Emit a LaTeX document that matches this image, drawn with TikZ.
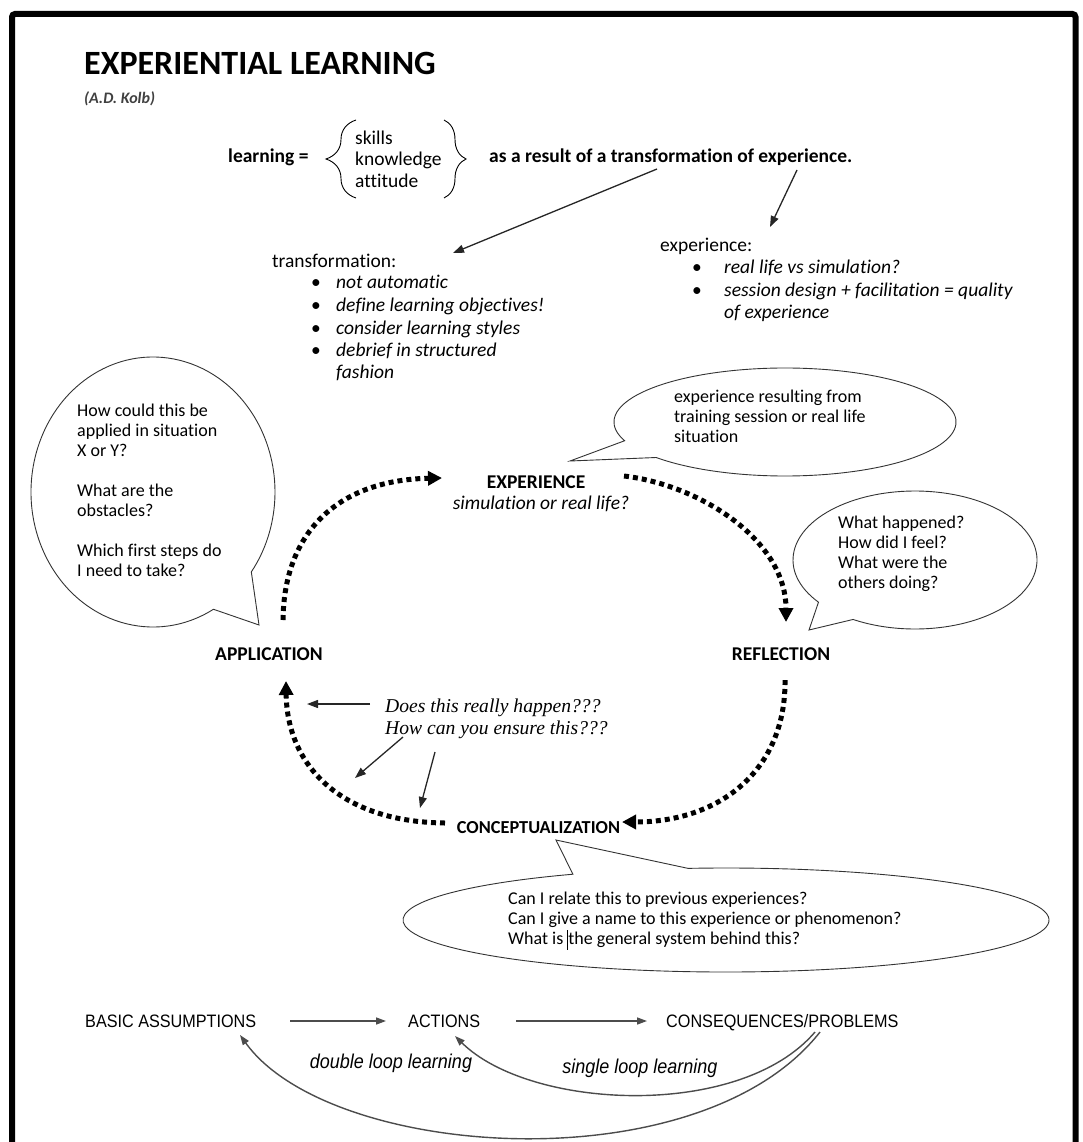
\documentclass[tikz,border=0pt]{standalone}
\usepackage{fontspec}
\setmainfont{Carlito}[Ligatures=NoCommon]
\newfontfamily\timesf{Liberation Serif}
\newfontfamily\narrowf[FakeStretch=0.9]{Liberation Sans}
\usetikzlibrary{arrows.meta,decorations.pathreplacing}
\begin{document}
\begin{tikzpicture}[x=1pt,y=-1pt,
  txt/.style={inner sep=0pt, anchor=base west, font=\fontsize{19.5}{22}\selectfont},
  btxt/.style={inner sep=0pt, anchor=base west, font=\fontsize{19.5}{22}\selectfont\bfseries},
  itxt/.style={inner sep=0pt, anchor=base west, font=\fontsize{19.5}{22}\selectfont\itshape},
  sm/.style={inner sep=0pt, anchor=base west, font=\fontsize{18}{20}\selectfont},
  cyc/.style={inner sep=0pt, anchor=base, font=\fontsize{19.5}{22}\selectfont\bfseries},
  serif/.style={inner sep=0pt, anchor=base west, font=\fontsize{19.6}{22}\selectfont\timesf\itshape},
  narrow/.style={inner sep=0pt, anchor=base west, font=\fontsize{18}{20}\selectfont\narrowf},
  narrowi/.style={inner sep=0pt, anchor=base, font=\fontsize{20}{22}\selectfont\narrowf\itshape},
  bubble/.style={draw=black!80, line width=0.9pt, fill=white},
  thinarrow/.style={draw=black!85, line width=1.3pt, -{Triangle[length=11pt,width=8pt]}},
  grayarrow/.style={draw=black!70, line width=1.4pt, -{Triangle[length=10pt,width=7pt]}},
  dots/.style={line width=5pt, dash pattern=on 5pt off 4pt, -{Triangle[length=14pt,width=14pt]}},
  bracestyle/.style={line width=0.9pt, decorate},
]
\useasboundingbox (0,0) rectangle (1083,1142);
% frame
\draw[line width=6pt, rounded corners=3pt] (12,1160) -- (12,14) -- (1075.5,14) -- (1075.5,1160);

% title
\node[inner sep=0pt, anchor=base west, font=\fontsize{34}{38}\selectfont\bfseries] (title) at (84,75) {EXPERIENTIAL LEARNING};
\node[inner sep=0pt, anchor=base west, font=\fontsize{16}{18}\selectfont\bfseries\itshape, text=black!75] (kolb) at (84,104) {(A.D. Kolb)};

% learning formula
\node[btxt] (learn) at (228,163) {learning =};
\node[txt] (skills) at (355,145) {skills};
\node[txt] (know) at (355,166) {knowledge};
\node[txt] (att) at (355,188) {attitude};
\draw[bracestyle, decoration={brace, amplitude=30pt}] (356,198) -- (356,120);
\draw[bracestyle, decoration={brace, amplitude=22pt}] (444,120) -- (444,198);
\node[btxt] (result) at (489,163) {as a result of a transformation of experience.};

\coordinate (tfA) at (657,169);
\coordinate (tfB) at (453,253);
\coordinate (exA) at (797,170);
\coordinate (exB) at (770,227);
\draw[thinarrow] (tfA) -- (tfB);
\draw[thinarrow] (exA) -- (exB);

% transformation list
\node[txt] (trf) at (272,267) {transformation:};
\node[txt] (tb1) at (311,288) {\textbullet};
\node[itxt] (t1) at (336,288) {not automatic};
\node[txt] (tb2) at (311,311) {\textbullet};
\node[itxt] (t2) at (336,311) {define learning objectives!};
\node[txt] (tb3) at (311,334) {\textbullet};
\node[itxt] (t3) at (336,334) {consider learning styles};
\node[txt] (tb4) at (311,356) {\textbullet};
\node[itxt] (t4) at (336,356) {debrief in structured};
\node[itxt] (t5) at (336,378) {fashion};

% experience list
\node[txt] (exp) at (660,251) {experience:};
\node[txt] (eb1) at (692,273) {\textbullet};
\node[itxt] (e1) at (724,273) {real life vs simulation?};
\node[txt] (eb2) at (692,296) {\textbullet};
\node[itxt] (e2) at (724,296) {session design + facilitation = quality};
\node[itxt] (e3) at (724,318) {of experience};

% bubbles
\draw[bubble] ([shift={(60.3:122 and 135)}]153,492) arc[start angle=60.3, end angle=396.3, x radius=122, y radius=135] -- (259,625) -- cycle;
\draw[bubble] ([shift={(159.7:171 and 54)}]785,422) arc[start angle=159.7, end angle=498.9, x radius=171, y radius=54] -- (570,461) -- cycle;
\draw[bubble] ([shift={(142.3:122 and 69)}]915,560) arc[start angle=142.3, end angle=480.5, x radius=122, y radius=69] -- (809,630) -- cycle;
\draw[bubble] ([shift={(263.25:323 and 52)}]726,920) arc[start angle=263.25, end angle=601.7, x radius=323, y radius=52] -- (556,840) -- cycle;

% bubble texts
\node[sm] (a1) at (77,416.5) {How could this be};
\node[sm] (a2) at (77,436.5) {applied in situation};
\node[sm] (a3) at (77,456.5) {X or Y?};
\node[sm] (a4) at (77,496.5) {What are the};
\node[sm] (a5) at (77,516.5) {obstacles?};
\node[sm] (a6) at (77,556.5) {Which first steps do};
\node[sm] (a7) at (77,576.5) {I need to take?};

\node[sm] (x1) at (674,402.5) {experience resulting from};
\node[sm] (x2) at (674,422.5) {training session or real life};
\node[sm] (x3) at (674,442.5) {situation};

\node[sm] (r1) at (838,528.5) {What happened?};
\node[sm] (r2) at (838,548.5) {How did I feel?};
\node[sm] (r3) at (838,568.5) {What were the};
\node[sm] (r4) at (838,588.5) {others doing?};

\node[sm] (c1) at (508,904.5) {Can I relate this to previous experiences?};
\node[sm] (c2) at (508,924.5) {Can I give a name to this experience or phenomenon?};
\node[sm] (c3) at (508,944.5) {What is \hspace{1pt}the general system behind this?};
\coordinate (curT) at (567,930);
\coordinate (curB) at (567,950);
\draw[line width=1pt] (curT) -- (curB);

% cycle labels
\node[cyc] (EXP) at (536,488) {EXPERIENCE};
\node[inner sep=0pt, anchor=base, font=\fontsize{19.5}{22}\selectfont\itshape] (EXPs) at (541,509) {simulation or real life?};
\node[cyc] (APP) at (269,660) {APPLICATION};
\node[cyc] (REF) at (781,660) {REFLECTION};
\node[cyc, font=\fontsize{18.3}{22}\selectfont\bfseries] (CON) at (538.5,833) {CONCEPTUALIZATION};

% dotted cycle
\coordinate (d1s) at (283,620);
\coordinate (d1e) at (442,478);
\coordinate (d2s) at (624,476);
\coordinate (d2e) at (786,622);
\coordinate (d3s) at (785,680);
\coordinate (d3e) at (622,822);
\coordinate (d4s) at (445,823);
\coordinate (d4e) at (286,681);
\draw[dots] (d1s) .. controls (284,530) and (340,480) .. (d1e);
\draw[dots] (d2s) .. controls (700,485) and (786,540) .. (d2e);
\draw[dots] (d3s) .. controls (786,770) and (720,822) .. (d3e);
\draw[dots] (d4s) .. controls (340,822) and (287,765) .. (d4e);

% question
\node[serif] (q1) at (385,712) {Does this really happen???};
\node[serif] (q2) at (385,734) {How can you ensure this???};
\coordinate (qa1) at (370,704);
\coordinate (qa1e) at (307,704);
\coordinate (qa2) at (403,737);
\coordinate (qa2e) at (355,778);
\coordinate (qa3) at (435,752);
\coordinate (qa3e) at (420,808);
\draw[thinarrow] (qa1) -- (qa1e);
\draw[thinarrow] (qa2) -- (qa2e);
\draw[thinarrow] (qa3) -- (qa3e);

% loop learning
\node[narrow] (BA) at (85,1027) {BASIC ASSUMPTIONS};
\node[narrow] (AC) at (408,1027) {ACTIONS};
\node[narrow] (CP) at (666,1027) {CONSEQUENCES/PROBLEMS};
\coordinate (ba1) at (290,1021);
\coordinate (ba2) at (386,1021);
\coordinate (ac1) at (516,1021);
\coordinate (ac2) at (647,1021);
\draw[grayarrow] (ba1) -- (ba2);
\draw[grayarrow] (ac1) -- (ac2);
\coordinate (sl1) at (815,1032);
\coordinate (sl2) at (455,1036);
\coordinate (dl1) at (820,1032);
\coordinate (dl2) at (240,1035);
\draw[grayarrow] (sl1) .. controls (740,1120) and (530,1110) .. (sl2);
\draw[grayarrow] (dl1) .. controls (700,1185) and (330,1160) .. (dl2);
\node[narrowi] (dll) at (391,1068) {double loop learning};
\node[narrowi] (sll) at (640,1073) {single loop learning};
\end{tikzpicture}
\end{document}
